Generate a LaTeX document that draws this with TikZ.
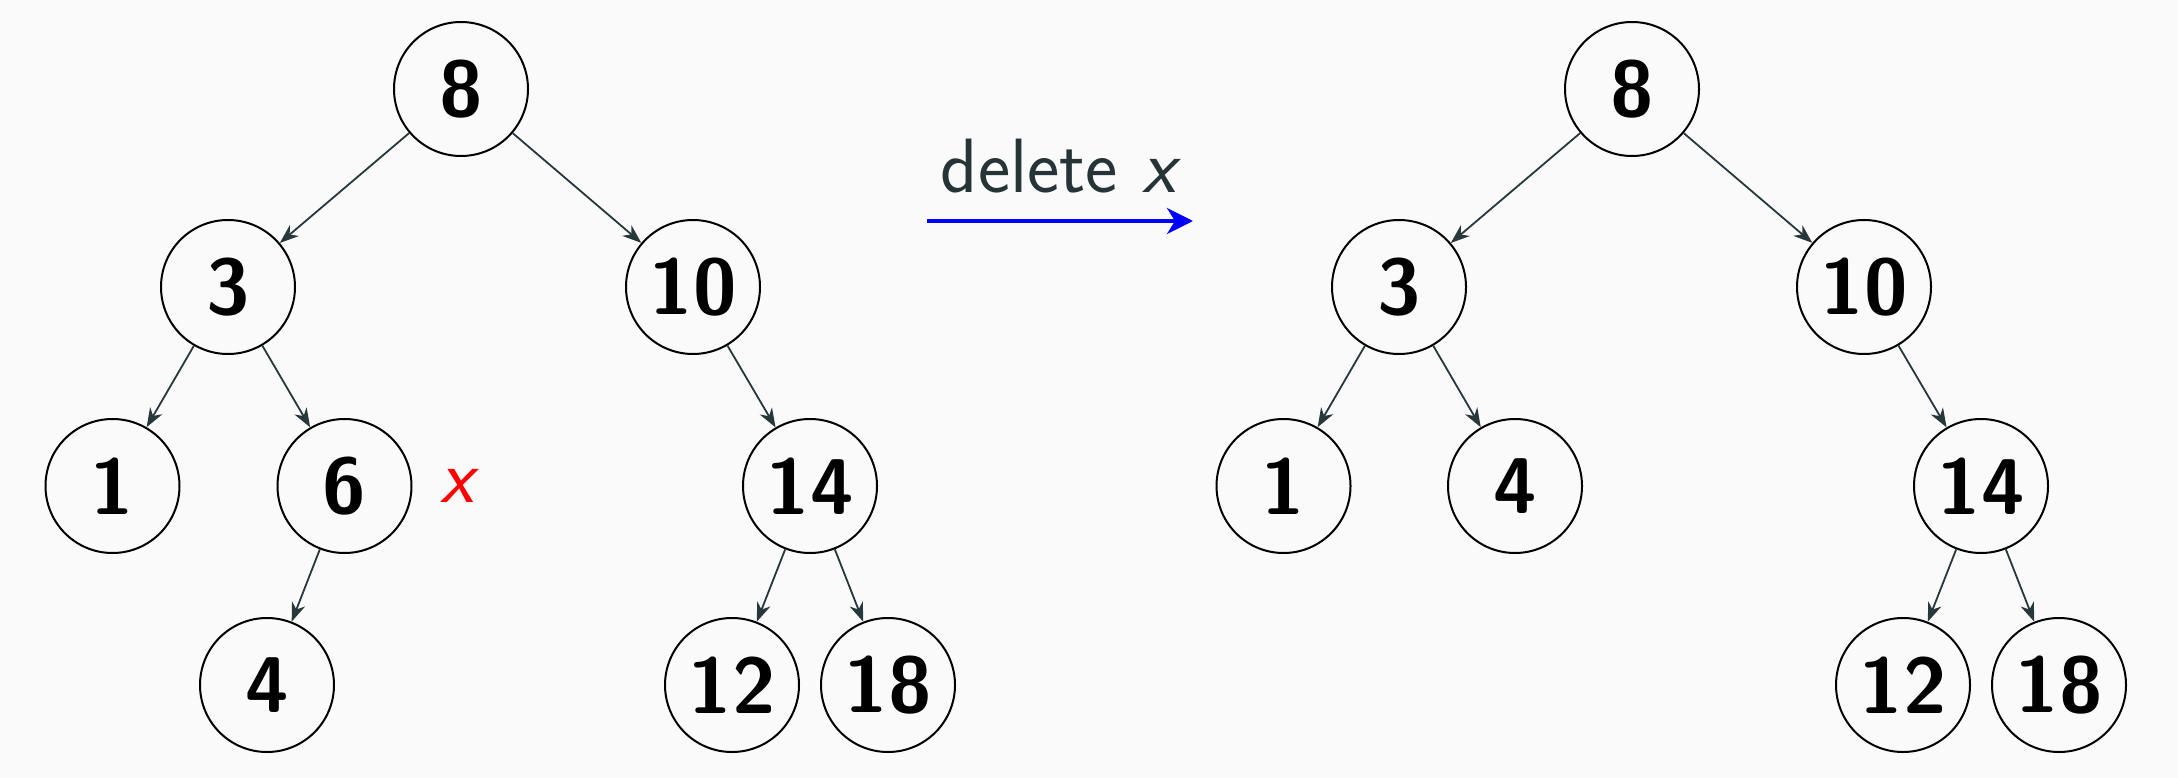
\documentclass[tikz,border=0pt]{standalone}
\usetikzlibrary{arrows.meta}
\definecolor{bg}{RGB}{250,250,250}
\definecolor{edgec}{RGB}{38,56,60}
\definecolor{txtc}{RGB}{38,52,56}
\tikzset{
  tnode/.style={circle,draw=black,line width=2pt,minimum size=134pt,inner sep=0pt,
    font=\fontsize{79}{79}\selectfont\sffamily\bfseries},
  tedge/.style={draw=edgec,line width=1.8pt,-{Stealth[length=19pt,width=14pt,inset=6pt]}},
  bigarrow/.style={draw=blue,line width=4pt,-{Stealth[length=26pt,width=26pt,inset=8pt]}},
  lbl/.style={font=\fontsize{77}{77}\selectfont\sffamily,inner sep=0pt}
}
\begin{document}
\begin{tikzpicture}[x=1pt,y=-1pt]
\path[fill=bg,use as bounding box] (0,0) rectangle (2178,778);
% left tree
\node[tnode] (a8) at (461,89) {8};
\node[tnode] (a3) at (228,287) {3};
\node[tnode] (a10) at (693,287) {10};
\node[tnode] (a1) at (112.5,486) {1};
\node[tnode] (a6) at (344.5,486) {6};
\node[tnode] (a14) at (810,486) {14};
\node[tnode] (a4) at (267,685) {4};
\node[tnode] (a12) at (732,685) {12};
\node[tnode] (a18) at (888,685) {18};
\node[lbl,text=red] (xl) at (457,486) {\slshape x};
\draw[tedge] (a8) -- (a3);
\draw[tedge] (a8) -- (a10);
\draw[tedge] (a3) -- (a1);
\draw[tedge] (a3) -- (a6);
\draw[tedge] (a10) -- (a14);
\draw[tedge] (a6) -- (a4);
\draw[tedge] (a14) -- (a12);
\draw[tedge] (a14) -- (a18);
% arrow
\coordinate (s) at (927,221);
\coordinate (e) at (1193,221);
\draw[bigarrow] (s) -- (e);
\node[lbl,text=txtc,anchor=base] (dl) at (1058,193) {delete \slshape x};
% right tree
\node[tnode] (b8) at (1632,89) {8};
\node[tnode] (b3) at (1399,287) {3};
\node[tnode] (b10) at (1864,287) {10};
\node[tnode] (b1) at (1283.5,486) {1};
\node[tnode] (b4) at (1515,486) {4};
\node[tnode] (b14) at (1981,486) {14};
\node[tnode] (b12) at (1903,685) {12};
\node[tnode] (b18) at (2059,685) {18};
\draw[tedge] (b8) -- (b3);
\draw[tedge] (b8) -- (b10);
\draw[tedge] (b3) -- (b1);
\draw[tedge] (b3) -- (b4);
\draw[tedge] (b10) -- (b14);
\draw[tedge] (b14) -- (b12);
\draw[tedge] (b14) -- (b18);
\end{tikzpicture}
\end{document}
